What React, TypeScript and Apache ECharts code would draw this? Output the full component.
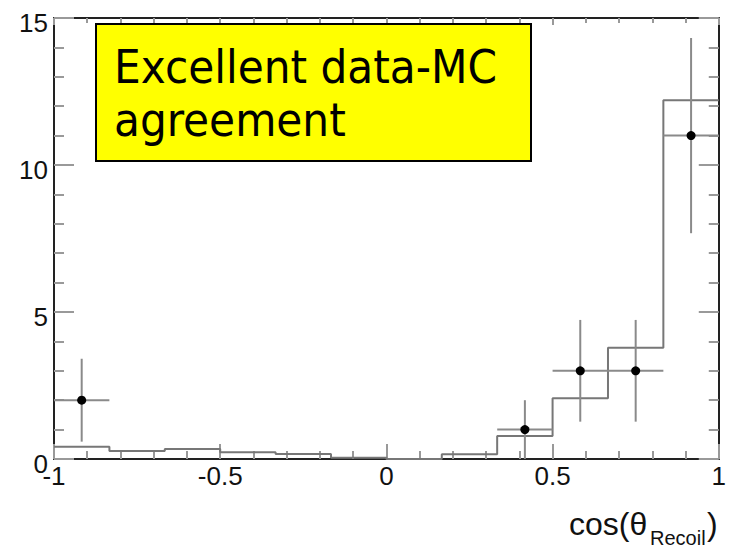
import React, { useEffect, useRef } from "react";
import * as echarts from "echarts";

// MC histogram: bin edges and contents
const mcEdges = [-1, -0.8333, -0.6667, -0.5, -0.3333, -0.1667, 0, 0.1667, 0.3333, 0.5, 0.6667, 0.8333, 1];
const mcValues = [0.42, 0.27, 0.34, 0.23, 0.17, 0.04, 0, 0.16, 0.78, 2.07, 3.78, 12.2];

// Data points
const dataX = [-0.9167, 0.4167, 0.5833, 0.75, 0.9167];
const dataY = [2, 1, 3, 3, 11];
const dataErr = [1.41, 1, 1.73, 1.73, 3.32];
const dataHalfWidth = [0.0833, 0.0833, 0.0833, 0.0833, 0.0833];

const xTicks = ["-1", "-0.5", "0", "0.5", "1"];
const yTicks = ["0", "5", "10", "15"];

const LABEL_FONT = "'Liberation Sans', Arial, Helvetica, sans-serif";

export default function App() {
  const ref = useRef<HTMLDivElement>(null);
  useEffect(() => {
    if (!ref.current) return;
    const chart = echarts.init(ref.current, null, { renderer: "svg" });

    const stepData: number[][] = mcEdges.map((e, i) => [e, mcValues[Math.min(i, mcValues.length - 1)]]);
    const pts = dataX.map((x, i) => [x, dataY[i], dataErr[i], dataHalfWidth[i]]);

    const axisLineStyle = { color: "#222", width: 2 };
    const tickStyle = { color: "#999", width: 2 };

    const option: any = {
      animation: false,
      backgroundColor: "#fff",
      grid: { left: 54, right: 10, top: 18, bottom: 89, containLabel: false },
      xAxis: [
        {
          type: "value",
          min: -1,
          max: 1,
          interval: 0.5,
          axisLine: { show: true, onZero: false, lineStyle: axisLineStyle },
          axisTick: { show: true, inside: true, length: 15, lineStyle: tickStyle },
          minorTick: { show: true, splitNumber: 5, length: 8, lineStyle: tickStyle },
          splitLine: { show: false },
          axisLabel: {
            show: true,
            margin: 4,
            fontSize: 26,
            color: "#111",
            fontFamily: LABEL_FONT,
            showMinLabel: true,
            showMaxLabel: true,
            formatter: (v: number) => {
              const idx = Math.round((v + 1) / 0.5);
              return xTicks[idx] ?? "";
            },
          },
        },
        {
          type: "value",
          position: "top",
          min: -1,
          max: 1,
          interval: 0.5,
          axisLine: { show: true, onZero: false, lineStyle: axisLineStyle },
          axisTick: { show: true, inside: true, length: 7, lineStyle: tickStyle },
          minorTick: { show: true, splitNumber: 5, length: 5, lineStyle: tickStyle },
          splitLine: { show: false },
          axisLabel: { show: false },
        },
      ],
      yAxis: [
        {
          type: "value",
          min: 0,
          max: 15,
          interval: 5,
          axisLine: { show: true, onZero: false, lineStyle: axisLineStyle },
          axisTick: { show: true, inside: true, length: 20, lineStyle: tickStyle },
          minorTick: { show: true, splitNumber: 5, length: 10, lineStyle: tickStyle },
          splitLine: { show: false },
          axisLabel: {
            show: true,
            margin: 6,
            fontSize: 26,
            color: "#111",
            fontFamily: LABEL_FONT,
            verticalAlign: "top",
            lineHeight: 10,
            formatter: (v: number) => yTicks[Math.round(v / 5)] ?? "",
          },
        },
        {
          type: "value",
          position: "right",
          min: 0,
          max: 15,
          interval: 5,
          axisLine: { show: true, onZero: false, lineStyle: axisLineStyle },
          axisTick: { show: true, inside: true, length: 20, lineStyle: tickStyle },
          minorTick: { show: true, splitNumber: 5, length: 10, lineStyle: tickStyle },
          splitLine: { show: false },
          axisLabel: { show: false },
        },
      ],
      series: [
        {
          type: "line",
          name: "MC",
          xAxisIndex: 0,
          yAxisIndex: 0,
          step: "end",
          data: stepData,
          showSymbol: false,
          symbol: "none",
          lineStyle: { color: "#777", width: 2 },
          z: 2,
        },
        {
          type: "custom",
          name: "Data",
          xAxisIndex: 0,
          yAxisIndex: 0,
          data: pts,
          z: 3,
          renderItem: (params: any, api: any) => {
            const x = api.value(0);
            const y = api.value(1);
            const e = api.value(2);
            const hw = api.value(3);
            const c = api.coord([x, y]);
            const top = api.coord([x, y + e]);
            const bot = api.coord([x, Math.max(0, y - e)]);
            const left = api.coord([x - hw, y]);
            const right = api.coord([x + hw, y]);
            const st = { stroke: "#8a8a8a", lineWidth: 2 };
            return {
              type: "group",
              children: [
                { type: "line", shape: { x1: c[0], y1: top[1], x2: c[0], y2: bot[1] }, style: st },
                { type: "line", shape: { x1: left[0], y1: c[1], x2: right[0], y2: c[1] }, style: st },
                { type: "circle", shape: { cx: c[0], cy: c[1], r: 4.5 }, style: { fill: "#000" } },
              ],
            };
          },
        },
      ],
      graphic: [
        {
          type: "rect",
          left: 95,
          top: 23,
          shape: { width: 435, height: 137 },
          style: { fill: "#ffff00", stroke: "#000", lineWidth: 2 },
          z: 10,
        },
        {
          type: "text",
          x: 114,
          y: 66,
          style: {
            text: "Excellent data-MC",
            font: "47px 'DejaVu Sans Condensed', 'DejaVu Sans', sans-serif",
            fill: "#000",
            verticalAlign: "middle",
            align: "left",
          },
          z: 11,
        },
        {
          type: "text",
          x: 114,
          y: 119,
          style: {
            text: "agreement",
            font: "47px 'DejaVu Sans Condensed', 'DejaVu Sans', sans-serif",
            fill: "#000",
            verticalAlign: "middle",
            align: "left",
          },
          z: 11,
        },
        {
          type: "text",
          x: 569,
          y: 524,
          style: {
            text: "cos(θ",
            font: `32px ${LABEL_FONT}`,
            fill: "#111",
            verticalAlign: "middle",
            align: "left",
          },
        },
        {
          type: "text",
          x: 650,
          y: 538,
          style: {
            text: "Recoil",
            font: `20px ${LABEL_FONT}`,
            fill: "#111",
            verticalAlign: "middle",
            align: "left",
          },
        },
        {
          type: "text",
          x: 707,
          y: 524,
          style: {
            text: ")",
            font: `32px ${LABEL_FONT}`,
            fill: "#111",
            verticalAlign: "middle",
            align: "left",
          },
        },
      ],
    };

    chart.setOption(option);
    return () => chart.dispose();
  }, []);

  return (
    <div
      ref={ref}
      style={{ position: "fixed", left: 0, top: 0, width: 729, height: 548, background: "#fff" }}
    />
  );
}
